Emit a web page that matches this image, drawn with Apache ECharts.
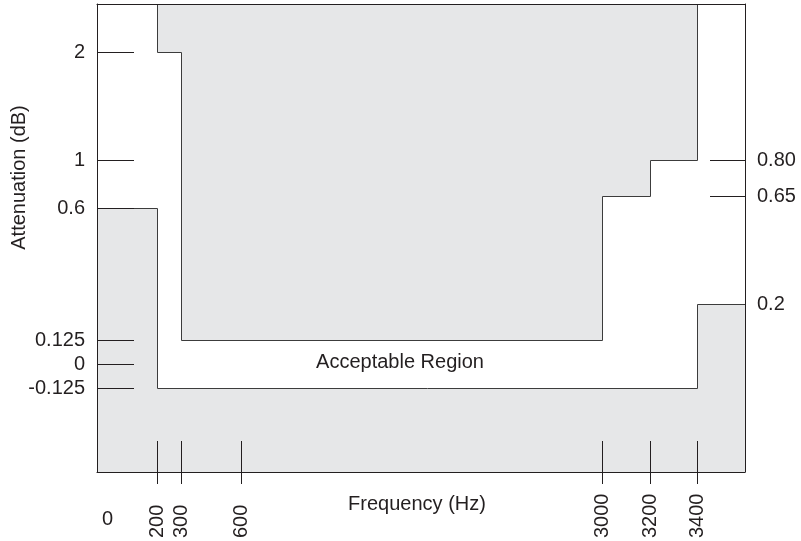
<!DOCTYPE html>
<html>
<head>
<meta charset="utf-8">
<script src="https://cdn.jsdelivr.net/npm/echarts@6/dist/echarts.min.js"></script>
<style>
html,body{margin:0;padding:0;background:#fff;}
#chart{width:801px;height:541px;}
</style>
</head>
<body>
<div id="chart"></div>
<script>
// ---------- data ----------
const freqTicks = [200, 300, 600, 3000, 3200, 3400];
const freqTickLabels = ['200', '300', '600', '3000', '3200', '3400'];
const freqOrigin = 0;
const freqOriginLabel = '0';

const leftDbTicks = [2, 1, 0.6, 0.125, 0, -0.125];
const leftDbLabels = ['2', '1', '0.6', '0.125', '0', '-0.125'];
const rightDbTicks = [0.80, 0.65];
const rightDbLabelValues = [0.80, 0.65, 0.2];
const rightDbLabels = ['0.80', '0.65', '0.2'];

// upper mask (max attenuation): step limits between consecutive frequencies
const upperHz = [200, 300, 3000, 3200, 3400];
const upperDb = [2, 0.125, 0.65, 0.80];
const upperScale = ['L', 'L', 'R', 'R'];
// lower mask (min attenuation): last step runs to the right edge
const lowerHz = [0, 200, 3400];
const lowerDb = [0.6, -0.125, 0.2];
const lowerScale = ['L', 'L', 'R'];

const xTitle = 'Frequency (Hz)';
const yTitle = 'Attenuation (dB)';
const regionLabel = 'Acceptable Region';

// ---------- schematic (non-linear) axis layout ----------
const X_HZ = [0, 200, 300, 600, 3000, 3200, 3400];
const X_U  = [0, 60.5, 84.5, 144.5, 505.5, 553.5, 600.5];
const X_MAX = 648;
const L_DB = [-0.125, 0, 0.125, 0.6, 1, 2];
const L_U  = [83.5, 107.5, 131.5, 263.5, 311.5, 419.5];
const R_DB = [0.2, 0.65, 0.8];
const R_U  = [167.5, 275.5, 311.5];
const Y_MAX = 468;

function interp(v, xs, us) {
  for (let i = 0; i < xs.length; i++) if (Math.abs(xs[i] - v) < 1e-9) return us[i];
  for (let i = 0; i < xs.length - 1; i++) {
    if (v > xs[i] && v < xs[i + 1]) return us[i] + (v - xs[i]) / (xs[i + 1] - xs[i]) * (us[i + 1] - us[i]);
  }
  return v < xs[0] ? us[0] : us[us.length - 1];
}
const fx = hz => interp(hz, X_HZ, X_U);
const fy = (db, s) => s === 'R' ? interp(db, R_DB, R_U) : interp(db, L_DB, L_U);

// build step outlines
const upperPts = [[fx(upperHz[0]), Y_MAX]];
for (let i = 0; i < upperDb.length; i++) {
  const y = fy(upperDb[i], upperScale[i]);
  upperPts.push([fx(upperHz[i]), y], [fx(upperHz[i + 1]), y]);
}
upperPts.push([fx(upperHz[upperHz.length - 1]), Y_MAX]);

const lowerPts = [];
for (let i = 0; i < lowerDb.length; i++) {
  const y = fy(lowerDb[i], lowerScale[i]);
  const x1 = i + 1 < lowerHz.length ? fx(lowerHz[i + 1]) : X_MAX;
  lowerPts.push([fx(lowerHz[i]), y], [x1, y]);
}

function lookup(v, positions, labels) {
  for (let i = 0; i < positions.length; i++) if (Math.abs(positions[i] - v) < 0.01) return labels[i];
  return '';
}
const xTickPos = freqTicks.map(fx);
const leftPos = leftDbTicks.map(d => fy(d, 'L'));
const rightTickPos = rightDbTicks.map(d => fy(d, 'R'));
const rightLabelPos = rightDbLabelValues.map(d => fy(d, 'R'));

const INK = '#231f20';
const FONT = 'Liberation Sans, Arial, sans-serif';
const baseLabel = { color: INK, fontSize: 20, fontFamily: FONT };

const chart = echarts.init(document.getElementById('chart'), null, { renderer: 'canvas' });
chart.setOption({
  animation: false,
  backgroundColor: '#fff',
  grid: { left: 97, right: 56, top: 4, bottom: 69, containLabel: false },
  xAxis: [
    { type: 'value', min: 0, max: X_MAX, position: 'bottom', z: 5,
      axisLine: { show: true, onZero: false, lineStyle: { color: INK, width: 1 } },
      axisTick: { show: true, inside: true, length: 31, customValues: xTickPos, lineStyle: { color: INK } },
      axisLabel: Object.assign({}, baseLabel, { show: true, customValues: xTickPos, rotate: 90, align: 'left', verticalAlign: 'middle', margin: 66,
        padding: [0, 0, 7, 0],
        formatter: v => lookup(v, xTickPos, freqTickLabels) }),
      splitLine: { show: false } },
    { type: 'value', min: 0, max: X_MAX, position: 'bottom', z: 5,
      axisLine: { show: false, onZero: false },
      axisTick: { show: true, inside: false, length: 12, customValues: xTickPos, lineStyle: { color: INK } },
      axisLabel: { show: false }, splitLine: { show: false } },
    { type: 'value', min: 0, max: X_MAX, position: 'bottom', z: 5,
      axisLine: { show: false, onZero: false }, axisTick: { show: false },
      axisLabel: Object.assign({}, baseLabel, { show: true, customValues: [fx(freqOrigin)], align: 'left', margin: 37, padding: [0, 0, 0, 5],
        showMinLabel: true, formatter: () => freqOriginLabel }),
      splitLine: { show: false } },
    { type: 'value', min: 0, max: X_MAX, position: 'top', z: 5,
      axisLine: { show: true, onZero: false, lineStyle: { color: INK, width: 1 } },
      axisTick: { show: false }, axisLabel: { show: false }, splitLine: { show: false } }
  ],
  yAxis: [
    { type: 'value', min: 0, max: Y_MAX, position: 'left', z: 5,
      axisLine: { show: true, onZero: false, lineStyle: { color: INK, width: 1 } },
      axisTick: { show: true, inside: true, length: 37, customValues: leftPos, lineStyle: { color: INK } },
      axisLabel: Object.assign({}, baseLabel, { show: true, customValues: leftPos, margin: 12,
        formatter: v => lookup(v, leftPos, leftDbLabels) }),
      splitLine: { show: false } },
    { type: 'value', min: 0, max: Y_MAX, position: 'right', z: 5,
      axisLine: { show: true, onZero: false, lineStyle: { color: INK, width: 1 } },
      axisTick: { show: true, inside: true, length: 35, customValues: rightTickPos, lineStyle: { color: INK } },
      axisLabel: Object.assign({}, baseLabel, { show: true, customValues: rightLabelPos, margin: 12,
        formatter: v => lookup(v, rightLabelPos, rightDbLabels) }),
      splitLine: { show: false } }
  ],
  series: [
    { name: 'Upper mask', type: 'line', xAxisIndex: 0, yAxisIndex: 0, data: upperPts, showSymbol: false, z: 1,
      lineStyle: { color: '#3c3c3c', width: 1 }, areaStyle: { color: '#e6e7e8', opacity: 1, origin: 'end' } },
    { name: 'Lower mask', type: 'line', xAxisIndex: 0, yAxisIndex: 0, data: lowerPts, showSymbol: false, z: 1,
      lineStyle: { color: '#3c3c3c', width: 1 }, areaStyle: { color: '#e6e7e8', opacity: 1, origin: 'start' } }
  ],
  graphic: [
    { type: 'text', x: 19.5, y: 177.5, rotation: Math.PI / 2, z: 10,
      style: { text: yTitle, fill: INK, font: '20px ' + FONT, align: 'center', verticalAlign: 'middle' } },
    { type: 'text', x: 417, y: 504, z: 10,
      style: { text: xTitle, fill: INK, font: '20px ' + FONT, align: 'center', verticalAlign: 'middle' } },
    { type: 'text', x: 400, y: 362, z: 10,
      style: { text: regionLabel, fill: INK, font: '20px ' + FONT, align: 'center', verticalAlign: 'middle' } }
  ]
});
</script>
</body>
</html>
